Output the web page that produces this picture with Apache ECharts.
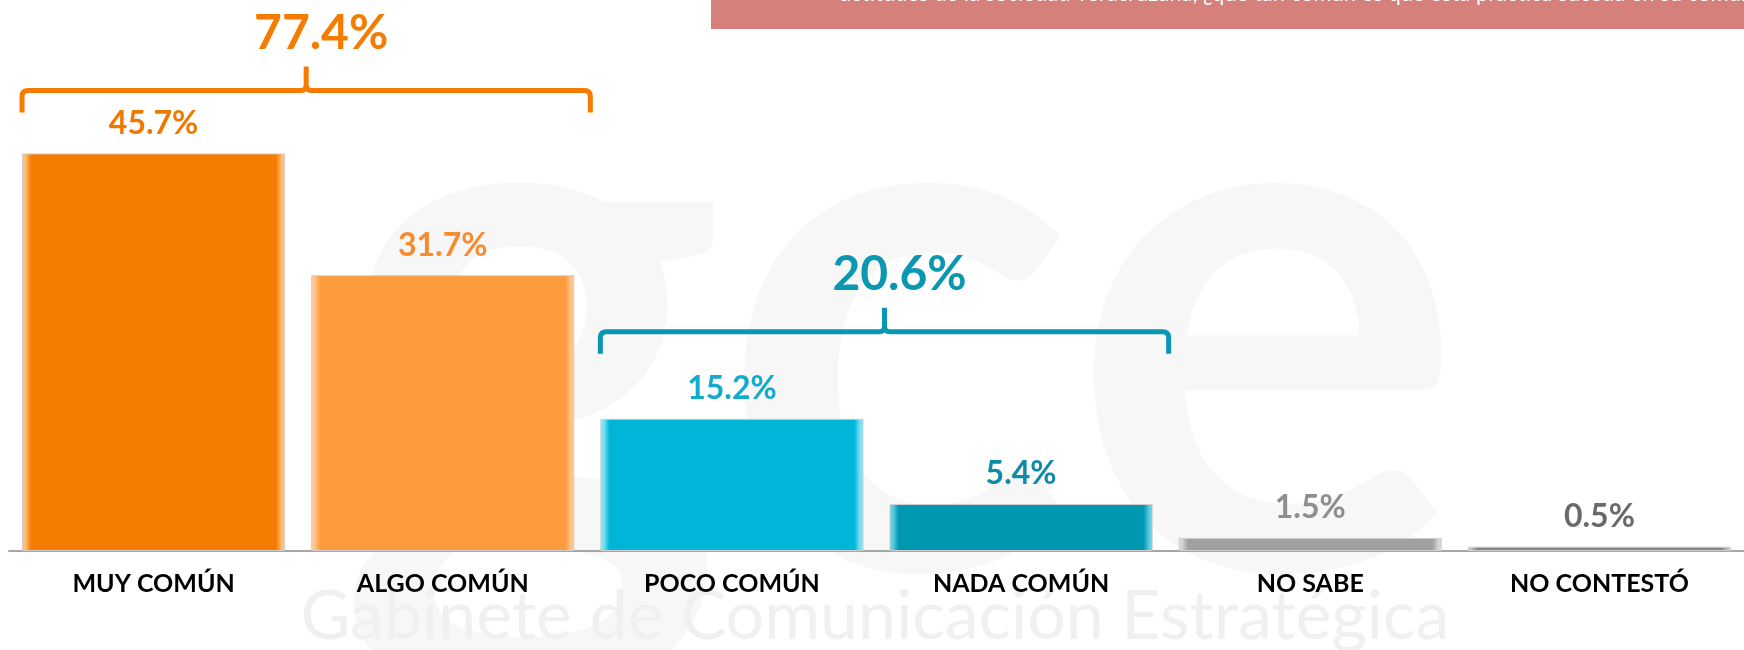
<!DOCTYPE html>
<html>
<head>
    <meta charset="UTF-8">
    <title>¿Qué tan común?</title>
    <script src="https://cdn.jsdelivr.net/npm/echarts@6/dist/echarts.min.js"></script>
    <style>
        html, body { margin: 0; padding: 0; background: #fff; }
        #chart { width: 1744px; height: 650px; }
    </style>
</head>
<body>
    <div id="chart"></div>

    <script>
        // categorías y porcentajes
        const categorias = ['MUY COMÚN', 'ALGO COMÚN', 'POCO COMÚN', 'NADA COMÚN', 'NO SABE', 'NO CONTESTÓ'];
        const porcentajes = [45.7, 31.7, 15.2, 5.4, 1.5, 0.5];

        // grupos con llave: categoría inicial, categoría final, total
        const gruposDesde = [0, 2];
        const gruposHasta = [1, 3];
        const gruposTotal = [77.4, 20.6];

        // estilos
        const coloresBarra = ['#F57C00', '#FD9A3B', '#00B5D8', '#0097B2', '#A0A0A0', '#858585'];
        const coloresBisel = ['#FFC07A', '#FFC78E', '#7FE3F5', '#62CCE0', '#D8D8D8', '#C4C4C4'];
        const coloresEtiqueta = ['#F07800', '#F98B2E', '#13AACF', '#0E8BA7', '#8E8E8E', '#6A6A6A'];
        const coloresGrupo = ['#F57C00', '#0B96B1'];
        const elevacion = [63, 87];

        const chart = echarts.init(document.getElementById('chart'));

        function bisel(base, claro) {
            return new echarts.graphic.LinearGradient(0, 0, 1, 0, [
                { offset: 0, color: claro },
                { offset: 0.012, color: claro },
                { offset: 0.035, color: base },
                { offset: 0.965, color: base },
                { offset: 0.988, color: claro },
                { offset: 1, color: claro }
            ]);
        }

        function llave(params, api) {
            const i = params.dataIndex;
            const desde = api.value(0);
            const hasta = api.value(1);
            const banda = api.size([1, 0])[0];
            const izq = api.coord([desde, 0])[0] - banda / 2 + banda * 0.045;
            const der = api.coord([hasta, 0])[0] + banda / 2 + 3;
            const maximo = Math.max.apply(null, porcentajes.slice(desde, hasta + 1));
            const y = api.coord([desde, maximo])[1] - elevacion[i];
            const m = (izq + der) / 2;
            const d = [
                'M', izq, y + 22, 'L', izq, y + 6, 'Q', izq, y, izq + 6, y,
                'L', m - 5, y, 'Q', m, y, m, y - 6, 'L', m, y - 24,
                'M', m, y - 6, 'Q', m, y, m + 5, y,
                'L', der - 6, y, 'Q', der, y, der, y + 6, 'L', der, y + 22
            ].join(' ');
            return {
                type: 'group',
                children: [{
                    type: 'path',
                    shape: { pathData: d },
                    style: { stroke: coloresGrupo[i], lineWidth: 5, fill: 'none', lineJoin: 'round' }
                }, {
                    type: 'text',
                    x: m + 15,
                    y: y - 57,
                    style: {
                        text: api.value(2).toFixed(1) + '%',
                        fill: coloresGrupo[i],
                        font: 'bold 48px Lato',
                        align: 'center',
                        verticalAlign: 'middle',
                        textAlign: 'center',
                        textVerticalAlign: 'middle'
                    }
                }]
            };
        }

        const option = {
            animation: false,
            backgroundColor: '#fff',
            grid: { left: 9, top: 116, width: 1748, height: 435 },
            xAxis: {
                type: 'category',
                data: categorias,
                axisLine: { lineStyle: { color: '#A6A6A6', width: 2 } },
                axisTick: { length: 7, lineStyle: { color: '#A6A6A6', width: 1.5 } },
                axisLabel: {
                    interval: 0,
                    margin: 20,
                    color: '#000',
                    fontSize: 25,
                    fontWeight: 'bold',
                    fontFamily: 'Lato'
                }
            },
            yAxis: { type: 'value', min: 0, max: 50, show: false },
            graphic: [{
                type: 'text',
                z: -10,
                silent: true,
                x: 900,
                y: 330,
                style: {
                    text: 'gce', fill: '#F7F7F7', font: 'bold 740px Lato',
                    align: 'center', verticalAlign: 'middle'
                }
            }, {
                type: 'text',
                z: -10,
                silent: true,
                x: 875,
                y: 617,
                style: {
                    text: 'Gabinete de Comunicación Estratégica', fill: '#F0F0F0', font: '68px Lato',
                    align: 'center', verticalAlign: 'middle'
                }
            }, {
                type: 'rect',
                z: 10,
                shape: { x: 711, y: 0, width: 1033, height: 29 },
                style: { fill: '#D6807B' }
            }, {
                type: 'text',
                z: 11,
                x: 840,
                y: 5,
                style: {
                    text: 'actitudes de la sociedad veracruzana, ¿qué tan común es que esta práctica suceda en su comunidad?',
                    fill: '#fff', font: '22px Lato', align: 'left', verticalAlign: 'bottom'
                }
            }],
            series: [{
                type: 'bar',
                barCategoryGap: '9%',
                data: porcentajes.map((v, i) => ({
                    value: v,
                    itemStyle: { color: bisel(coloresBarra[i], coloresBisel[i]) },
                    label: { color: coloresEtiqueta[i] }
                })),
                itemStyle: { borderColor: '#CFCFCF', borderWidth: 1 },
                label: {
                    show: true,
                    position: 'top',
                    distance: 14,
                    fontSize: 32,
                    fontWeight: 'bold',
                    fontFamily: 'Lato',
                    formatter: p => p.value.toFixed(1) + '%'
                }
            }, {
                type: 'custom',
                renderItem: llave,
                data: gruposDesde.map((d, i) => [d, gruposHasta[i], gruposTotal[i]]),
                z: 5
            }]
        };

        chart.setOption(option);
    </script>
</body>
</html>
